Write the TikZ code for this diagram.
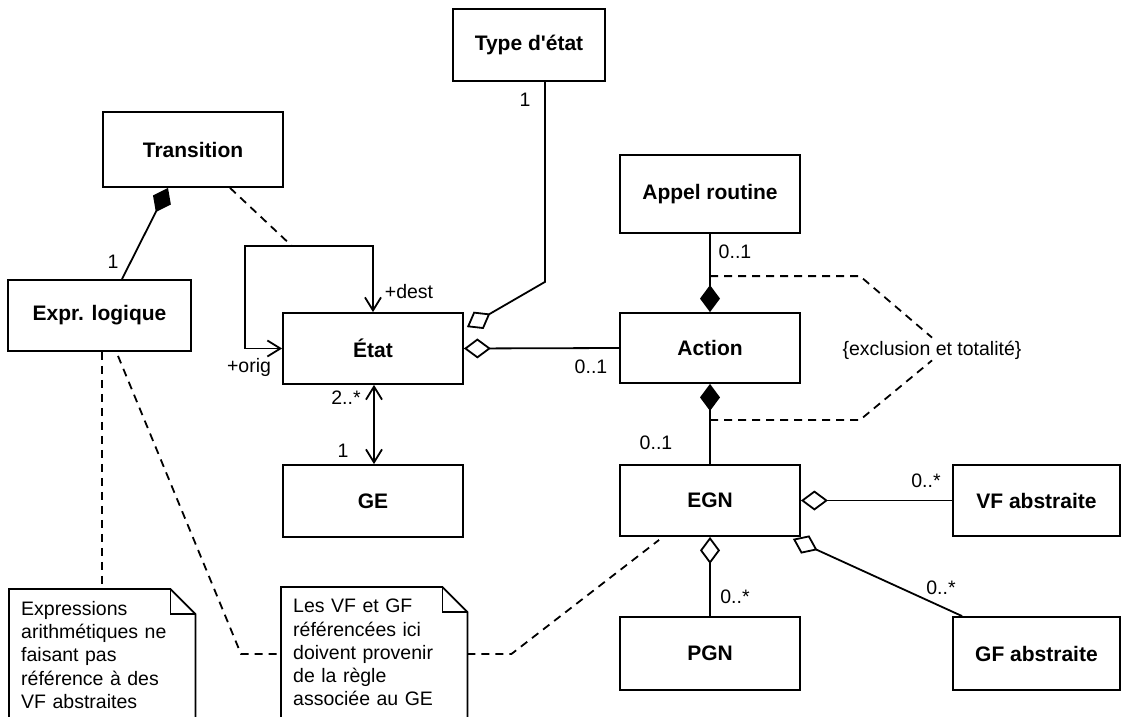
\documentclass[tikz,border=0pt]{standalone}
\usepackage{fontspec}
\defaultfontfeatures[\rmfamily]{}
\setmainfont{Liberation Sans}
\usetikzlibrary{arrows.meta,calc}

\tikzset{
  cls/.style={draw, line width=1.8pt, inner sep=0pt,
    font=\bfseries\fontsize{21}{25}\selectfont},
  lbl/.style={inner sep=0pt, font=\fontsize{19.5}{23}\selectfont},
  link/.style={line width=1.8pt},
  dashlink/.style={line width=1.8pt, dash pattern=on 8pt off 6pt},
  notebody/.style={anchor=north west, inner xsep=12pt, inner ysep=12pt,
    text width=162pt, align=left, font=\fontsize{19.5}{23.25}\selectfont},
  noteline/.style={line width=1.8pt},
  odiam/.tip={Diamond[open, length=27pt, width=20pt]},
  fdiam/.tip={Diamond[length=27pt, width=20pt]},
  barb/.tip={Straight Barb[length=13pt, width=16pt]},
}

\begin{document}
\begin{tikzpicture}[x=1pt, y=-1pt]
  \useasboundingbox (0,0) rectangle (1125,717);
  \clip (0,0) rectangle (1125,717);

  % classes
  \node[cls, minimum width=152pt, minimum height=72pt] (typ)    at (529,45)    {Type d'état};
  \node[cls, minimum width=180pt, minimum height=75pt] (trans)  at (193,149.5) {Transition};
  \node[cls, minimum width=180pt, minimum height=78pt] (appel)  at (710,194)   {Appel routine};
  \node[cls, minimum width=183pt, minimum height=71pt] (expr)   at (99.5,315.5){Expr. logique};
  \node[cls, minimum width=180pt, minimum height=71pt] (etat)   at (373,348.5) {État};
  \node[cls, minimum width=180pt, minimum height=70pt] (action) at (710,348)   {Action};
  \node[cls, minimum width=180pt, minimum height=72pt] (ge)     at (373,501)   {GE};
  \node[cls, minimum width=180pt, minimum height=71pt] (egn)    at (710,500.5) {EGN};
  \node[cls, minimum width=167pt, minimum height=71pt] (vf)     at (1036.5,500.5) {VF abstraite};
  \node[cls, minimum width=180pt, minimum height=73pt] (pgn)    at (710,653.5) {PGN};
  \node[cls, minimum width=167pt, minimum height=73pt] (gf)     at (1036.5,653.5) {GF abstraite};

  % notes
  \node[notebody] (note1) at (9,589) {Expressions\\arithmétiques ne\\faisant pas\\référence à des\\VF abstraites};
  \node[notebody] (note2) at (281,587) {Les VF et GF\\référencées ici\\doivent provenir\\de la règle\\associée au GE};
  \foreach \n in {note1,note2}{
    \draw[noteline] ($(\n.north west)+(0,160)$) -- (\n.north west)
      -- ($(\n.north east)+(-25,0)$) -- ($(\n.north east)+(0,25)$)
      -- ($(\n.north east)+(0,160)$);
    \draw[noteline] ($(\n.north east)+(-25,0)$) |- ($(\n.north east)+(0,25)$);
  }

  % state type
  \draw[link, -odiam] ($(typ.south)+(16,0)$) -- ++(0,200) -- ($(etat.north east)+(3,15)$);
  \node[lbl] (m1) at (525,100) {1};

  % transition: self association on the state
  \draw[link, barb-barb] (etat.north) -- ++(0,-66) -- ++(-128,0) |- (etat.west);
  \coordinate (looptop) at ($(etat.north)+(-81,-66)$);
  \draw[dashlink] ($(trans.south)+(37,0)$) -- (looptop);
  \node[lbl] (mdest) at (409,292) {+dest};
  \node[lbl] (morig) at (249,367) {+orig};

  % transition guard
  \draw[link, fdiam-] ($(trans.south)+(-25,0)$) -- ($(expr.north)+(22.5,0)$);
  \node[lbl] (m5) at (113,262) {1};

  % state and action
  \draw[link, odiam-] (etat.east) -- (action.west);
  \node[lbl] (m4) at (591,367) {0..1};

  % state and GE
  \draw[link, barb-barb] ($(etat.south)+(1,0)$) -- ($(ge.north)+(1,0)$);
  \node[lbl] (m2) at (346,398) {2..*};
  \node[lbl] (m3) at (343,451) {1};

  % action composition
  \draw[link, -fdiam] (appel.south) -- (action.north);
  \node[lbl] (m6) at (735,252) {0..1};
  \draw[link, fdiam-] (action.south) -- (egn.north);
  \node[lbl] (m7) at (656,443) {0..1};

  % constraint
  \node[lbl] (excl) at (932,350) {\{exclusion et totalité\}};
  \draw[dashlink] ($(action.north)+(0,-36)$) -- ++(150,0) -- ($(excl.north)+(0,-3)$);
  \draw[dashlink] ($(action.south)+(0,36)$) -- ++(150,0) -- ($(excl.south)+(0,1)$);

  % EGN aggregations
  \draw[link, odiam-] (egn.east) -- (vf.west);
  \node[lbl] (m8) at (926,481) {0..*};
  \draw[link, odiam-] (egn.south) -- (pgn.north);
  \node[lbl] (m9) at (735,597) {0..*};
  \draw[link, odiam-] ($(egn.south east)+(-8,2)$) -- ($(gf.north west)+(10,0)$);
  \node[lbl] (m10) at (941,588) {0..*};

  % note anchors
  \draw[dashlink] ($(expr.south)+(2.5,0)$) -- ($(note1.north west)+(93,0)$);
  \draw[dashlink] ($(expr.south)+(18.5,4)$) -- ($(note2.north west)+(-40,67)$)
    -- ($(note2.north west)+(0,67)$);
  \draw[dashlink] ($(note2.north east)+(0,67)$) -- ++(44,0) -- ($(egn.south west)+(40,3)$);
\end{tikzpicture}
\end{document}
